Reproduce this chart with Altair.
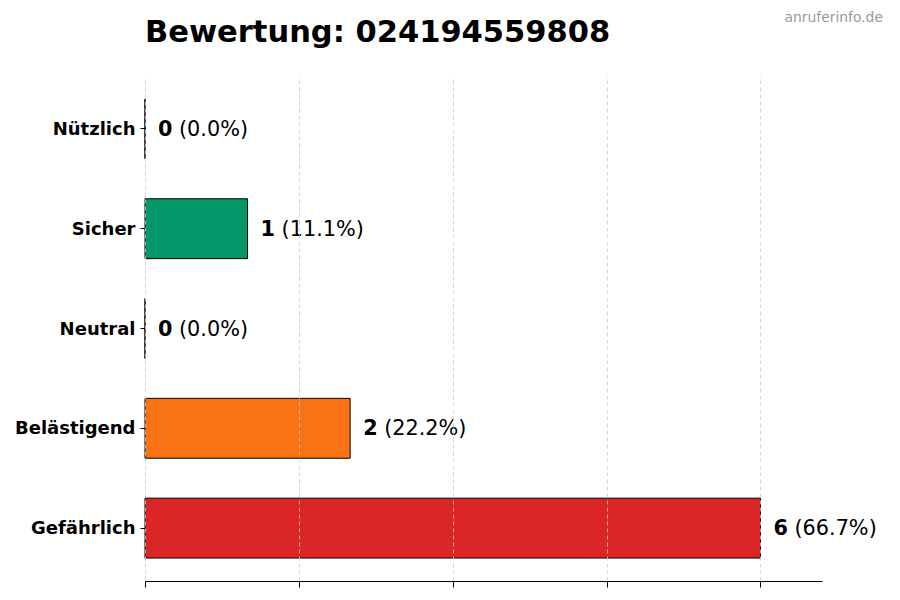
import altair as alt
import pandas as pd

categories = ["Nützlich", "Sicher", "Neutral", "Belästigend", "Gefährlich"]
counts = [0, 1, 0, 2, 6]
percents = ["(0.0%)", "(11.1%)", "(0.0%)", "(22.2%)", "(66.7%)"]
colors = ["#10b981", "#059669", "#9ca3af", "#f97316", "#dc2626"]
tick_values = [0, 1.5, 3, 4.5, 6]
title_text = "Bewertung: 024194559808"
watermark = "anruferinfo.de"

df = pd.DataFrame({"cat": categories, "count": counts, "pct": percents})

y_enc = alt.Y(
    "cat:N",
    sort=categories,
    scale=alt.Scale(paddingInner=0.4, paddingOuter=0.23),
    axis=alt.Axis(
        title=None,
        labelFontSize=18,
        labelFontWeight="bold",
        labelColor="black",
        labelPadding=5,
        labelOffset=1,
        domain=False,
        ticks=True,
        tickSize=5,
        tickColor="black",
        grid=False,
    ),
)

x_enc = alt.X(
    "count:Q",
    scale=alt.Scale(domain=[0, 6.6], nice=False, zero=True),
    axis=alt.Axis(
        title=None,
        values=tick_values,
        labels=False,
        ticks=True,
        tickSize=6,
        tickColor="black",
        domain=True,
        domainColor="black",
        domainWidth=1.2,
        grid=True,
        gridDash=[4, 3],
        gridColor="#cccccc",
        gridWidth=0.8,
        zindex=1,
    ),
)

base = alt.Chart(df)

bars = base.mark_bar(stroke="black", strokeWidth=1).encode(
    x=x_enc,
    y=y_enc,
    color=alt.Color(
        "cat:N",
        scale=alt.Scale(domain=categories, range=colors),
        legend=None,
    ),
)

num_text = base.mark_text(
    align="left", baseline="middle", dx=13, dy=1, fontSize=20.8, fontWeight="bold", color="black"
).encode(x="count:Q", y=alt.Y("cat:N", sort=categories), text="count:Q")

pct_text = base.mark_text(
    align="left", baseline="middle", dx=34, dy=1, fontSize=20.8, color="black"
).encode(x="count:Q", y=alt.Y("cat:N", sort=categories), text="pct:N")

wm = alt.Chart(pd.DataFrame({"t": [watermark]})).mark_text(
    align="right", baseline="middle", fontSize=13.9, color="#999999"
).encode(x=alt.value(738), y=alt.value(-58), text="t:N")

title_mark = alt.Chart(pd.DataFrame({"t": [title_text]})).mark_text(
    align="left", baseline="alphabetic", fontSize=30.5, fontWeight="bold", color="black"
).encode(x=alt.value(0), y=alt.value(-34), text="t:N")

chart = (
    alt.layer(bars, num_text, pct_text, wm, title_mark)
    .properties(
        width=677,
        height=505,
        autosize=alt.AutoSizeParams(type="none"),
        padding={"left": 137, "top": 68, "right": 70, "bottom": 11},
    )
    .configure(font="DejaVu Sans")
    .configure_view(stroke=None)
)

chart.save("out.html", embed_options={"renderer": "svg", "actions": False})
